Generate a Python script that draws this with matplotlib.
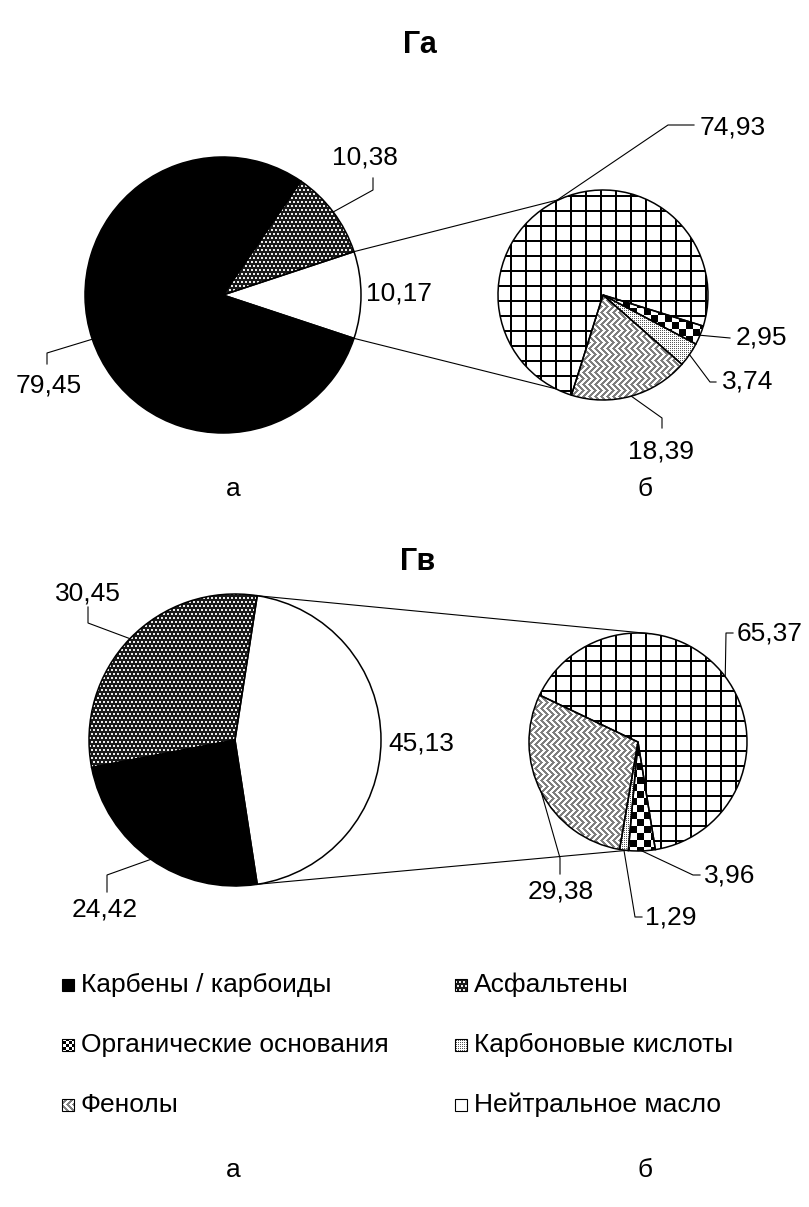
import numpy as np
import matplotlib
matplotlib.use("Agg")
import matplotlib.pyplot as plt
from matplotlib.patches import Rectangle

# ---------------- data ----------------
main_labels = ['Прочие', 'Асфальтены', 'Карбены / карбоиды']
sub_labels = ['Фенолы', 'Карбоновые кислоты', 'Органические основания', 'Нейтральное масло']
ga_main = [10.17, 10.38, 79.45]
ga_sub = [18.39, 3.74, 2.95, 74.93]
gv_main = [45.13, 30.45, 24.42]
gv_sub = [29.38, 1.29, 3.96, 65.37]
legend_labels = ['Карбены / карбоиды', 'Асфальтены', 'Органические основания',
                 'Карбоновые кислоты', 'Фенолы', 'Нейтральное масло']
titles = ['Га', 'Гв']
panel_letters = ['а', 'б']

# ---------------- figure ----------------
W, H = 809, 1207
plt.rcParams['font.family'] = ['Liberation Sans', 'DejaVu Sans']
fig = plt.figure(figsize=(W / 100, H / 100), dpi=100)
ax = fig.add_axes([0, 0, 1, 1])
ax.set_facecolor('none')

def P(x, y):
    return (x, H - y)

# ---------------- textures ----------------
yy, xx = np.mgrid[0:H, 0:W]

def tex_from_mask(mask, fg, bg=(1, 1, 1)):
    img = np.empty((H, W, 3))
    img[:] = bg
    img[mask] = fg
    return img

tex = {}
m = np.isin(yy % 4, (1, 2)) & np.isin((xx + 2 * ((yy // 4) % 2)) % 4, (1, 2))
tex['asph'] = tex_from_mask(m, (0.92, 0.92, 0.92), bg=(0.1, 0.1, 0.1))
tex['bases'] = tex_from_mask(((xx // 7 + yy // 7) % 2) == 0, (0, 0, 0))
tex['bases_small'] = tex_from_mask(((xx // 3 + yy // 3) % 2) == 0, (0, 0, 0))
tex['carb'] = tex_from_mask((xx % 2 == 0) & (yy % 2 == 0), (0.35, 0.35, 0.35))
tex['phen'] = tex_from_mask(((xx + np.abs((yy % 12) - 6)) % 6) < 3, (0.5, 0.5, 0.5))
tex['neut'] = tex_from_mask((xx % 15 < 2) | (yy % 15 < 2), (0, 0, 0))

main_styles = ['white', 'asph', 'black']
sub_styles = ['phen', 'carb', 'bases', 'neut']

def apply_style(patch, style):
    patch.set_edgecolor('black')
    patch.set_linewidth(1.1)
    patch.set_zorder(3)
    if style == 'black':
        patch.set_facecolor('black')
    elif style == 'white':
        patch.set_facecolor('white')
    else:
        patch.set_facecolor('none')
        im = ax.imshow(tex[style], extent=(0, W, 0, H), origin='upper',
                       interpolation='nearest', zorder=2)
        im.set_clip_path(patch)

def fmt(v):
    return f"{v:.2f}".replace('.', ',')

LAB_FS = 19
line_kw = dict(color='black', lw=0.8, zorder=4)

charts = [
    dict(main=ga_main, sub=ga_sub, title_xy=(420, 45),
         mc=(223, 295), mr=138, sc=(603, 295), sr=105, sub_start=-107.5,
         conn=(114.6, 243.4),
         main_lab=[dict(xy=(366, 293), ha='left', via=[]),
                   dict(xy=(365, 158), ha='center', via=[(373, 190), (373, 178)]),
                   dict(xy=(82, 386), ha='right', via=[(47, 353), (47, 364)])],
         sub_lab=[dict(xy=(661, 451), ha='center', via=[(662, 418), (662, 428)]),
                  dict(xy=(722, 382), ha='left', via=[(710, 382), (716, 382)]),
                  dict(xy=(736, 337), ha='left', via=[(730, 338)]),
                  dict(xy=(700, 128), ha='left', via=[(668, 125), (694, 125)])]),
    dict(main=gv_main, sub=gv_sub, title_xy=(418, 562),
         mc=(235, 740), mr=146, sc=(638, 742), sr=109, sub_start=154.5,
         conn=(83.8, 264.0),
         main_lab=[dict(xy=(388, 743), ha='left', via=[]),
                   dict(xy=(88, 594), ha='center', via=[(88, 623), (88, 607)]),
                   dict(xy=(105, 910), ha='center', via=[(107, 875), (107, 892)])],
         sub_lab=[dict(xy=(561, 892), ha='center', via=[(560, 858), (560, 874)]),
                  dict(xy=(645, 917), ha='left', via=[(635, 917), (642, 917)]),
                  dict(xy=(704, 875), ha='left', via=[(693, 875), (700, 875)]),
                  dict(xy=(737, 633), ha='left', via=[(726, 633), (733, 633)])]),
]

for ci, ch in enumerate(charts):
    main_start = -ch['main'][0] * 3.6 / 2
    mw, _ = ax.pie(ch['main'], center=P(*ch['mc']), radius=ch['mr'],
                   startangle=main_start, counterclock=True, frame=True)
    for w, st in zip(mw, main_styles):
        apply_style(w, st)
    sw, _ = ax.pie(ch['sub'], center=P(*ch['sc']), radius=ch['sr'],
                   startangle=ch['sub_start'], counterclock=True, frame=True)
    for w, st in zip(sw, sub_styles):
        apply_style(w, st)

    # connector lines from the split-off wedge to the secondary pie
    mcx, mcy = P(*ch['mc'])
    scx, scy = P(*ch['sc'])
    a_top = np.deg2rad(mw[0].theta2)
    a_bot = np.deg2rad(mw[0].theta1)
    for a_m, a_s in [(a_top, np.deg2rad(ch['conn'][0])), (a_bot, np.deg2rad(ch['conn'][1]))]:
        ax.plot([mcx + ch['mr'] * np.cos(a_m), scx + ch['sr'] * np.cos(a_s)],
                [mcy + ch['mr'] * np.sin(a_m), scy + ch['sr'] * np.sin(a_s)], **line_kw)

    # data labels with leader lines
    for wedges, vals, labs, c, r in [(mw, ch['main'], ch['main_lab'], ch['mc'], ch['mr']),
                                     (sw, ch['sub'], ch['sub_lab'], ch['sc'], ch['sr'])]:
        cx, cy = P(*c)
        for w, v, lab in zip(wedges, vals, labs):
            mid = np.deg2rad((w.theta1 + w.theta2) / 2)
            if lab['via']:
                xs = [cx + r * np.cos(mid)] + [p[0] for p in lab['via']]
                ys = [cy + r * np.sin(mid)] + [H - p[1] for p in lab['via']]
                ax.plot(xs, ys, **line_kw)
            ax.text(*P(*lab['xy']), fmt(v), ha=lab['ha'], va='center',
                    fontsize=LAB_FS, zorder=5)

    ax.text(*P(*ch['title_xy']), titles[ci], ha='center', va='center',
            fontsize=22, fontweight='bold')

# panel letters
for ly in [489, 1170]:
    for lx, t in zip([233, 645], panel_letters):
        ax.text(*P(lx, ly), t, ha='center', va='center', fontsize=LAB_FS)

# legend
leg_styles = ['black', 'asph', 'bases_small', 'carb', 'phen', 'white']
rows_y = [985, 1045, 1105]
cols_x = [62, 455]
for i, (lab, st) in enumerate(zip(legend_labels, leg_styles)):
    rx = cols_x[i % 2]
    ry = rows_y[i // 2]
    rect = Rectangle(P(rx, ry + 6), 12, 12)
    ax.add_patch(rect)
    apply_style(rect, st)
    rect.set_linewidth(0.8)
    ax.text(*P(rx + 19, ry), lab, ha='left', va='center', fontsize=19)

ax.set_xlim(0, W)
ax.set_ylim(0, H)
ax.set_aspect('equal')
ax.axis('off')
fig.savefig('out.png', dpi=100, facecolor='white')
